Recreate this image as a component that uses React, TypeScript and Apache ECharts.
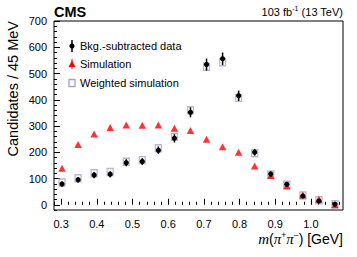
import React, { useEffect, useRef } from 'react';
import * as echarts from 'echarts';

const binCenters = [0.3025, 0.3475, 0.3925, 0.4375, 0.4825, 0.5275, 0.5725, 0.6175, 0.6625, 0.7075, 0.7525, 0.7975, 0.8425, 0.8875, 0.9325, 0.9775, 1.0225, 1.0675];
const dataValues = [79, 95, 113, 116, 160, 165, 208, 253, 352, 534, 556, 415, 200, 117, 78, 33, 14, 2];
const dataErrors = [10, 10, 12, 12, 13, 13, 14, 16, 19, 23, 24, 20, 13, 10, 8, 6, 5, 3];
const simValues = [139, 230, 270, 294, 304, 303, 304, 291, 283, 250, 221, 200, 148, 111, 71, 37, 21, 0];
const weightedValues = [85, 101, 120, 125, 164, 170, 215, 259, 360, 526, 543, 407, 196, 115, 76, 35, 17, 2];
const xMajorTicks = [0.3, 0.4, 0.5, 0.6, 0.7, 0.8, 0.9, 1.0];
const xMinorTicks = [0.28, 0.32, 0.34, 0.36, 0.38, 0.42, 0.44, 0.46, 0.48, 0.52, 0.54, 0.56, 0.58, 0.62, 0.64, 0.66, 0.68, 0.72, 0.74, 0.76, 0.78, 0.82, 0.84, 0.86, 0.88, 0.92, 0.94, 0.96, 0.98, 1.02, 1.04, 1.06, 1.08];
const yMajorTicks = [0, 100, 200, 300, 400, 500, 600, 700];
const yMinorTicks = [-20, 20, 40, 60, 80, 120, 140, 160, 180, 220, 240, 260, 280, 320, 340, 360, 380, 420, 440, 460, 480, 520, 540, 560, 580, 620, 640, 660, 680];

const FONT = 'Liberation Sans, Arial, Helvetica, sans-serif';
const BOX = '#a3a3cc';

export default function App() {
  const ref = useRef<HTMLDivElement>(null);
  useEffect(() => {
    document.body.style.margin = '0';
    if (!ref.current) return;
    const chart = echarts.init(ref.current, undefined, { renderer: 'svg' });
    const dataSeries = binCenters.map((x, i) => [x, dataValues[i], dataErrors[i]]);
    const simSeries = binCenters.map((x, i) => [x, simValues[i]]);
    const wSeries = binCenters.map((x, i) => [x, weightedValues[i]]);
    const xBase = { type: 'value', min: 0.28, max: 1.09, position: 'bottom', splitLine: { show: false }, axisLine: { show: false } };
    const yBase = { type: 'value', min: -20, max: 700, position: 'left', splitLine: { show: false }, axisLine: { show: false } };
    chart.setOption({
      animation: false,
      grid: { left: 54, right: 14, top: 21, bottom: 47, show: true, borderColor: '#000', borderWidth: 1, backgroundColor: 'transparent' },
      xAxis: [
        {
          ...xBase,
          axisTick: { inside: true, length: 6, customValues: xMajorTicks, lineStyle: { color: '#000' } },
          axisLabel: { customValues: xMajorTicks, color: '#000', fontSize: 11, fontFamily: FONT, margin: 8, formatter: (v: number) => v.toFixed(1) },
        },
        {
          ...xBase,
          axisTick: { inside: true, length: 3, customValues: xMinorTicks, lineStyle: { color: '#000' } },
          axisLabel: { show: false },
        },
      ],
      yAxis: [
        {
          ...yBase,
          axisTick: { inside: true, length: 6, customValues: yMajorTicks, lineStyle: { color: '#000' } },
          axisLabel: { customValues: yMajorTicks, color: '#000', fontSize: 11, fontFamily: FONT, margin: 7 },
        },
        {
          ...yBase,
          axisTick: { inside: true, length: 3, customValues: yMinorTicks, lineStyle: { color: '#000' } },
          axisLabel: { show: false },
        },
      ],
      series: [
        {
          type: 'scatter',
          data: wSeries,
          symbol: 'rect',
          symbolSize: [6, 7],
          itemStyle: { color: 'rgba(255,255,255,0)', borderColor: BOX, borderWidth: 1.3 },
          z: 2,
        },
        {
          type: 'scatter',
          data: simSeries,
          symbol: 'triangle',
          symbolSize: [7.5, 7],
          itemStyle: { color: '#ff0000' },
          z: 3,
        },
        {
          type: 'custom',
          data: dataSeries,
          z: 4,
          renderItem: (params: any, api: any) => {
            const x = api.value(0), y = api.value(1), e = api.value(2);
            const p = api.coord([x, y]);
            const lo = api.coord([x, y - e]);
            const hi = api.coord([x, y + e]);
            return {
              type: 'group',
              children: [
                { type: 'line', shape: { x1: p[0], y1: lo[1], x2: p[0], y2: hi[1] }, style: { stroke: '#000', lineWidth: 1.5 } },
                { type: 'circle', shape: { cx: p[0], cy: p[1], r: 2.6 }, style: { fill: '#000' } },
              ],
            };
          },
        },
      ],
      graphic: [
        { type: 'text', x: 54, y: 12, style: { text: 'CMS', font: `bold 14.5px ${FONT}`, fill: '#000', verticalAlign: 'middle', align: 'left' } },
        {
          type: 'text', x: 343, y: 12,
          style: {
            text: '{n|103 fb}{s|-1}{n| (13 TeV)}', align: 'right', verticalAlign: 'middle',
            rich: {
              n: { fontSize: 11, fontFamily: FONT, fill: '#000', lineHeight: 14 },
              s: { fontSize: 7, fontFamily: FONT, fill: '#000', verticalAlign: 'top', lineHeight: 14 },
            },
          },
        },
        {
          type: 'text', x: 13, y: 21, rotation: Math.PI / 2,
          style: { text: 'Candidates / 45 MeV', font: `14.5px ${FONT}`, fill: '#000', align: 'right', verticalAlign: 'middle' },
        },
        {
          type: 'text', x: 343, y: 239,
          style: {
            text: '{i|m}{n|(}{i|π}{s|+}{i|π}{s|−}{n|) [GeV]}', align: 'right', verticalAlign: 'middle',
            rich: {
              n: { fontSize: 14, fontFamily: FONT, fill: '#000', lineHeight: 18 },
              i: { fontSize: 15, fontFamily: 'Liberation Serif, Times New Roman, serif', fontStyle: 'italic', fill: '#000', lineHeight: 18 },
              s: { fontSize: 8.5, fontFamily: FONT, fill: '#000', verticalAlign: 'top', lineHeight: 18 },
            },
          },
        },
        // legend
        { type: 'line', shape: { x1: 72, y1: 40, x2: 72, y2: 52 }, style: { stroke: '#000', lineWidth: 1.5 } },
        { type: 'circle', shape: { cx: 72, cy: 46, r: 2.6 }, style: { fill: '#000' } },
        { type: 'text', x: 80, y: 46, style: { text: 'Bkg.-subtracted data', font: `11px ${FONT}`, fill: '#000', verticalAlign: 'middle' } },
        { type: 'line', shape: { x1: 72, y1: 59, x2: 72, y2: 69 }, style: { stroke: '#ff0000', lineWidth: 1 } },
        { type: 'polygon', shape: { points: [[72, 60.5], [68.5, 67], [75.5, 67]] }, style: { fill: '#ff0000' } },
        { type: 'text', x: 80, y: 64, style: { text: 'Simulation', font: `11px ${FONT}`, fill: '#000', verticalAlign: 'middle' } },
        { type: 'rect', shape: { x: 69, y: 79.5, width: 6, height: 7 }, style: { fill: 'rgba(255,255,255,0)', stroke: BOX, lineWidth: 1.3 } },
        { type: 'text', x: 80, y: 83, style: { text: 'Weighted simulation', font: `11px ${FONT}`, fill: '#000', verticalAlign: 'middle' } },
      ],
    });
    return () => chart.dispose();
  }, []);
  return <div ref={ref} style={{ width: 357, height: 257 }} />;
}
